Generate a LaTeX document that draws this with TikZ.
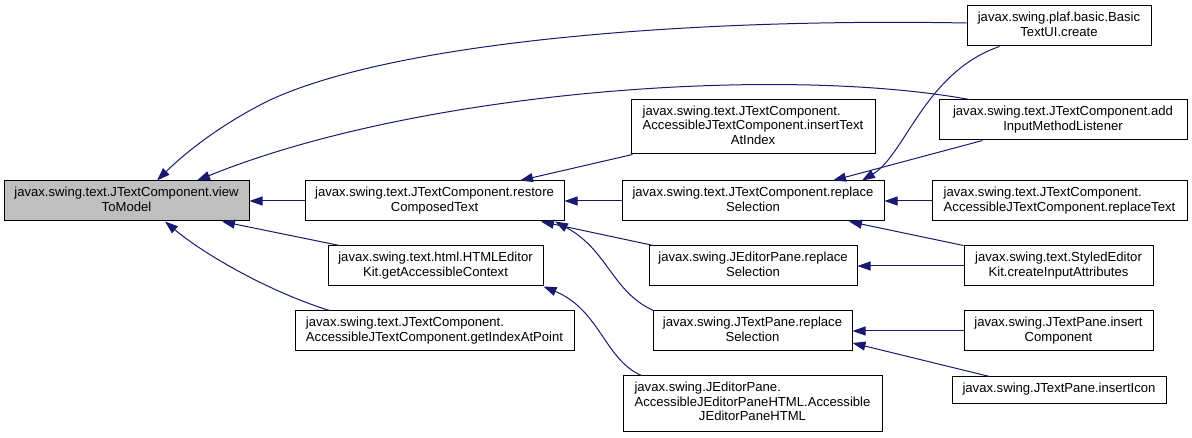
\documentclass[tikz,border=0pt]{standalone}
\usepackage{fontspec}
\setmainfont{Liberation Sans}
\usetikzlibrary{arrows.meta,calc}
\definecolor{edgeblue}{HTML}{191970}
\definecolor{maingray}{HTML}{BFBFBF}
\newcommand\mylbl[1]{\begin{tabular}{@{}c@{}}#1\end{tabular}}
\newcommand\myleft[1]{\multicolumn{1}{@{}l@{}}{#1}}
\begin{document}
\begin{tikzpicture}[x=1pt,y=-1pt,
  box/.style={draw=black, line width=1pt, fill=white, inner sep=0pt,
    font=\fontsize{13.1}{14.5}\selectfont},
  edge/.style={draw=edgeblue, line width=1pt, -{Triangle[length=13pt,width=9pt]}}]
\fill[white] (0,0) rectangle (1192,438);
\useasboundingbox (0,0) rectangle (1192,438);
% column 1
\node[box, fill=maingray, minimum width=245pt, minimum height=40pt] (main) at (126.5,201)
  {\mylbl{javax.swing.text.JTextComponent.view\\ToModel}};
% column 2
\node[box, minimum width=259pt, minimum height=40pt] (restore) at (434.5,201)
  {\mylbl{javax.swing.text.JTextComponent.restore\\ComposedText}};
\node[box, minimum width=215pt, minimum height=40pt] (html) at (435.5,266)
  {\mylbl{javax.swing.text.html.HTMLEditor\\Kit.getAccessibleContext}};
\node[box, minimum width=279pt, minimum height=40pt] (gidx) at (434.5,331)
  {\mylbl{\myleft{javax.swing.text.JTextComponent.}\\AccessibleJTextComponent.getIndexAtPoint}};
% column 3
\node[box, minimum width=244pt, minimum height=54pt] (itxt) at (753,127)
  {\mylbl{\myleft{javax.swing.text.JTextComponent.}\\AccessibleJTextComponent.insertText\\AtIndex}};
\node[box, minimum width=262pt, minimum height=40pt] (repl) at (753,201)
  {\mylbl{javax.swing.text.JTextComponent.replace\\Selection}};
\node[box, minimum width=208pt, minimum height=40pt] (jep) at (753,266)
  {\mylbl{javax.swing.JEditorPane.replace\\Selection}};
\node[box, minimum width=199pt, minimum height=40pt] (jtp) at (752.5,331)
  {\mylbl{javax.swing.JTextPane.replace\\Selection}};
\node[box, minimum width=259pt, minimum height=55pt] (acc) at (752.5,403.5)
  {\mylbl{\myleft{javax.swing.JEditorPane.}\\AccessibleJEditorPaneHTML.Accessible\\JEditorPaneHTML}};
% column 4
\node[box, minimum width=184pt, minimum height=40pt] (basic) at (1059,26)
  {\mylbl{javax.swing.plaf.basic.Basic\\TextUI.create}};
\node[box, minimum width=248pt, minimum height=40pt] (addin) at (1063,120)
  {\mylbl{javax.swing.text.JTextComponent.add\\InputMethodListener}};
\node[box, minimum width=255pt, minimum height=40pt] (rtext) at (1059.5,201)
  {\mylbl{\myleft{javax.swing.text.JTextComponent.}\\AccessibleJTextComponent.replaceText}};
\node[box, minimum width=189pt, minimum height=40pt] (styled) at (1058.5,266)
  {\mylbl{javax.swing.text.StyledEditor\\Kit.createInputAttributes}};
\node[box, minimum width=189pt, minimum height=40pt] (icomp) at (1058.5,331)
  {\mylbl{javax.swing.JTextPane.insert\\Component}};
\node[box, minimum width=214pt, minimum height=26pt] (icon) at (1059,390)
  {\mylbl{javax.swing.JTextPane.insertIcon}};
% edges
\draw[edge] ([yshift=3pt]basic.west) .. controls (700,18) and (400,40) .. (270,100)
  .. controls (215,127) and (180,158) .. ([xshift=30.5pt]main.north);
\draw[edge] ([xshift=31pt]addin.north west) .. controls (780,65) and (420,90) .. ([xshift=70.5pt]main.north);
\draw[edge] (restore.west) -- (main.east);
\draw[edge] ([xshift=12pt]html.north west) -- ([xshift=95.5pt]main.south);
\draw[edge] ([xshift=35pt]gidx.north west) .. controls (270,292) and (205,255) .. ([xshift=38.5pt]main.south);
\draw[edge] ([xshift=2pt]itxt.south west) -- ([xshift=85.5pt]restore.north);
\draw[edge] (repl.west) -- (restore.east);
\draw[edge] ([xshift=5pt]jep.north west) -- ([xshift=106.5pt]restore.south);
\draw[edge] ([xshift=1pt]jtp.north west) .. controls (612,292) and (608,250) .. ([xshift=120.5pt]restore.south);
\draw[edge] ([xshift=19pt]acc.north west) .. controls (605,360) and (600,310) .. (html.south east);
\draw[edge] ([xshift=33pt]basic.south west) .. controls (925,72) and (905,155) .. ([xshift=109pt]repl.north);
\draw[edge] ([xshift=44pt]addin.south west) -- ([xshift=80pt]repl.north);
\draw[edge] (rtext.west) -- (repl.east);
\draw[edge] (styled.north west) -- ([xshift=96pt]repl.south);
\draw[edge] (styled.west) -- (jep.east);
\draw[edge] (icomp.west) -- (jtp.east);
\draw[edge] ([xshift=38pt]icon.north west) -- ([yshift=-12pt]jtp.east);
\end{tikzpicture}
\end{document}
